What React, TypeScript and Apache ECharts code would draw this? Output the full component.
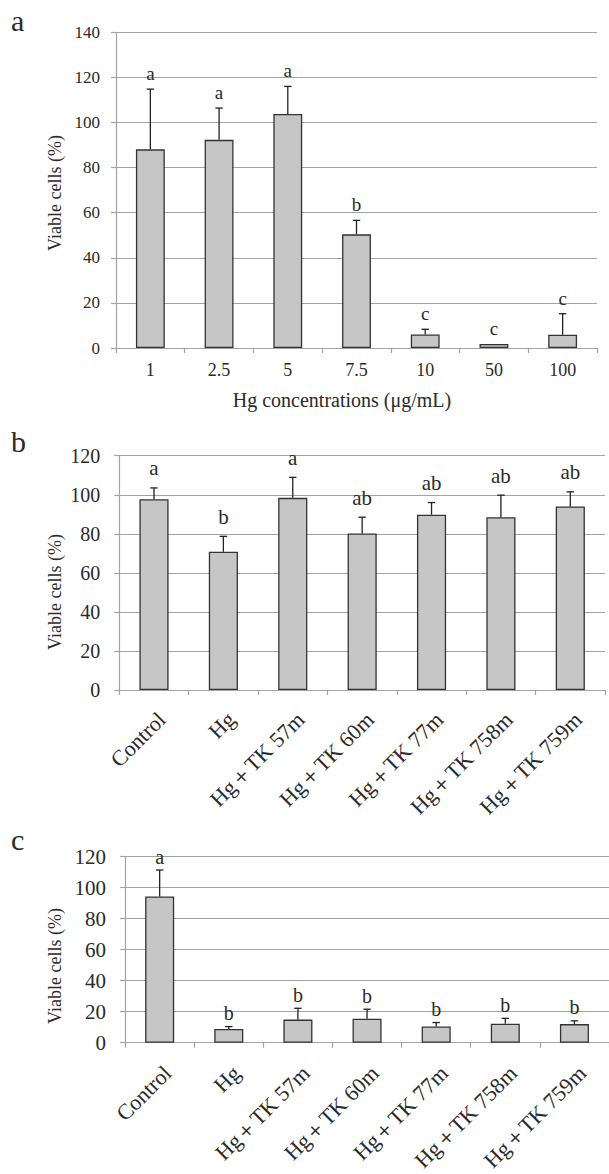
import React, { useEffect, useRef } from "react";
import * as echarts from "echarts";

// Panel a
const catsA = ["1", "2.5", "5", "7.5", "10", "50", "100"];
const meanA = [88.1, 92.3, 103.8, 50.4, 6.0, 1.8, 5.9];
const errA = [26.7, 14.1, 12.2, 6.2, 2.3, 0, 9.3];
const sigA = ["a", "a", "a", "b", "c", "c", "c"];
const ticksA = { min: 0, max: 140, interval: 20 };

// Panels b and c share categories
const catsBC = ["Control", "Hg", "Hg＋TK 57m", "Hg＋TK 60m", "Hg＋TK 77m", "Hg＋TK 758m", "Hg＋TK 759m"];
const meanB = [97.7, 70.8, 98.4, 80.2, 89.8, 88.5, 94.0];
const errB = [5.8, 7.9, 10.5, 8.3, 6.2, 11.3, 7.5];
const sigB = ["a", "b", "a", "ab", "ab", "ab", "ab"];
const ticksB = { min: 0, max: 120, interval: 20 };

const meanC = [94.3, 8.8, 14.9, 15.5, 10.4, 12.2, 12.0];
const errC = [17.1, 1.6, 7.3, 6.1, 2.6, 3.5, 2.1];
const sigC = ["a", "b", "b", "b", "b", "b", "b"];
const ticksC = { min: 0, max: 120, interval: 20 };

const yName = "Viable cells (%)";
const xNameA = "Hg concentrations (μg/mL)";
const panelLetters = ["a", "b", "c"];

const FONT = '"Liberation Serif", "Times New Roman", serif';
const GRID_C = "#a3a3a3";
const TXT = "#2a2a2a";

function errSeries(idx: number, means: number[], errs: number[], sig: string[], fs: number, gap: number) {
  return {
    type: "custom",
    xAxisIndex: idx,
    yAxisIndex: idx,
    z: 5,
    data: means.map((m, i) => [i, m, errs[i]]),
    renderItem: (params: any, api: any) => {
      const i = api.value(0);
      const m = api.value(1);
      const e = api.value(2);
      const base = api.coord([i, m]);
      const top = api.coord([i, m + e]);
      const children: any[] = [];
      if (e > 0) {
        children.push({
          type: "line",
          shape: { x1: base[0], y1: base[1], x2: top[0], y2: top[1] },
          style: { stroke: "#222", lineWidth: 1.3 },
        });
        children.push({
          type: "line",
          shape: { x1: top[0] - 3.7, y1: top[1], x2: top[0] + 3.7, y2: top[1] },
          style: { stroke: "#222", lineWidth: 1.3 },
        });
      }
      children.push({
        type: "text",
        x: top[0],
        y: top[1] - gap,
        style: {
          text: sig[params.dataIndex],
          fontFamily: FONT,
          fontSize: fs,
          fill: TXT,
          textAlign: "center",
          textVerticalAlign: "bottom",
        },
      });
      return { type: "group", children };
    },
  };
}

function barSeries(idx: number, means: number[]) {
  return {
    type: "bar",
    xAxisIndex: idx,
    yAxisIndex: idx,
    data: means,
    barWidth: "42%",
    itemStyle: { color: "#c6c6c6", borderColor: "#333", borderWidth: 1.3 },
  };
}

function yAxis(idx: number, t: { min: number; max: number; interval: number }, fs: number, margin: number) {
  return {
    type: "value",
    gridIndex: idx,
    min: t.min,
    max: t.max,
    interval: t.interval,
    axisLine: { show: true, lineStyle: { color: GRID_C, width: 1.2 } },
    axisTick: { show: true, length: 5, lineStyle: { color: GRID_C, width: 1.2 } },
    splitLine: { show: true, lineStyle: { color: GRID_C, width: 1.2 } },
    axisLabel: { fontFamily: FONT, fontSize: fs, color: TXT, margin },
  };
}

function xAxis(idx: number, cats: string[], fs: number, margin: number, rotate: number) {
  return {
    type: "category",
    gridIndex: idx,
    data: cats,
    axisLine: { show: true, lineStyle: { color: GRID_C, width: 1.2 } },
    axisTick: { show: true, length: 5, lineStyle: { color: GRID_C, width: 1.2 } },
    axisLabel: rotate
      ? { fontFamily: FONT, fontSize: fs, color: TXT, margin, rotate, interval: 0, align: "right", verticalAlign: "top" }
      : { fontFamily: FONT, fontSize: fs, color: TXT, margin, interval: 0 },
  };
}

function rotText(text: string, x: number, y: number, fs: number) {
  return {
    type: "text",
    x,
    y,
    rotation: Math.PI / 2,
    style: { text, fontFamily: FONT, fontSize: fs, fill: TXT, textAlign: "center", textVerticalAlign: "middle" },
  };
}

function plainText(text: string, x: number, y: number, fs: number, align: string) {
  return {
    type: "text",
    x,
    y,
    style: { text, fontFamily: FONT, fontSize: fs, fill: TXT, textAlign: align, textVerticalAlign: "middle" },
  };
}

export default function App() {
  const ref = useRef<HTMLDivElement>(null);
  useEffect(() => {
    if (!ref.current) return;
    const chart = echarts.init(ref.current, undefined, { renderer: "svg" });
    chart.setOption({
      animation: false,
      backgroundColor: "#ffffff",
      textStyle: { fontFamily: FONT },
      grid: [
        { left: 116, top: 32.3, width: 481, height: 315.7 },
        { left: 119.3, top: 455.7, width: 485.7, height: 234.3 },
        { left: 125.1, top: 856.7, width: 483.9, height: 196.3 },
      ],
      xAxis: [
        xAxis(0, catsA, 18, 13, 0),
        xAxis(1, catsBC, 22, 18, 45),
        xAxis(2, catsBC, 22, 19, 45),
      ],
      yAxis: [yAxis(0, ticksA, 17, 16), yAxis(1, ticksB, 20, 19), yAxis(2, ticksC, 21, 19)],
      series: [
        barSeries(0, meanA),
        errSeries(0, meanA, errA, sigA, 19, 6),
        barSeries(1, meanB),
        errSeries(1, meanB, errB, sigB, 21, 9),
        barSeries(2, meanC),
        errSeries(2, meanC, errC, sigC, 20, 3.5),
      ],
      graphic: [
        plainText(panelLetters[0], 11, 20.2, 30, "left"),
        plainText(panelLetters[1], 11, 441.8, 30, "left"),
        plainText(panelLetters[2], 11, 839.5, 30, "left"),
        rotText(yName, 55, 193, 18),
        rotText(yName, 54.5, 592, 18),
        rotText(yName, 55, 966, 18),
        plainText(xNameA, 342, 400, 20, "center"),
      ],
    });
    return () => chart.dispose();
  }, []);
  return (
    <div
      ref={ref}
      style={{ position: "absolute", left: 0, top: 0, width: 609, height: 1174, background: "#fff" }}
    />
  );
}
